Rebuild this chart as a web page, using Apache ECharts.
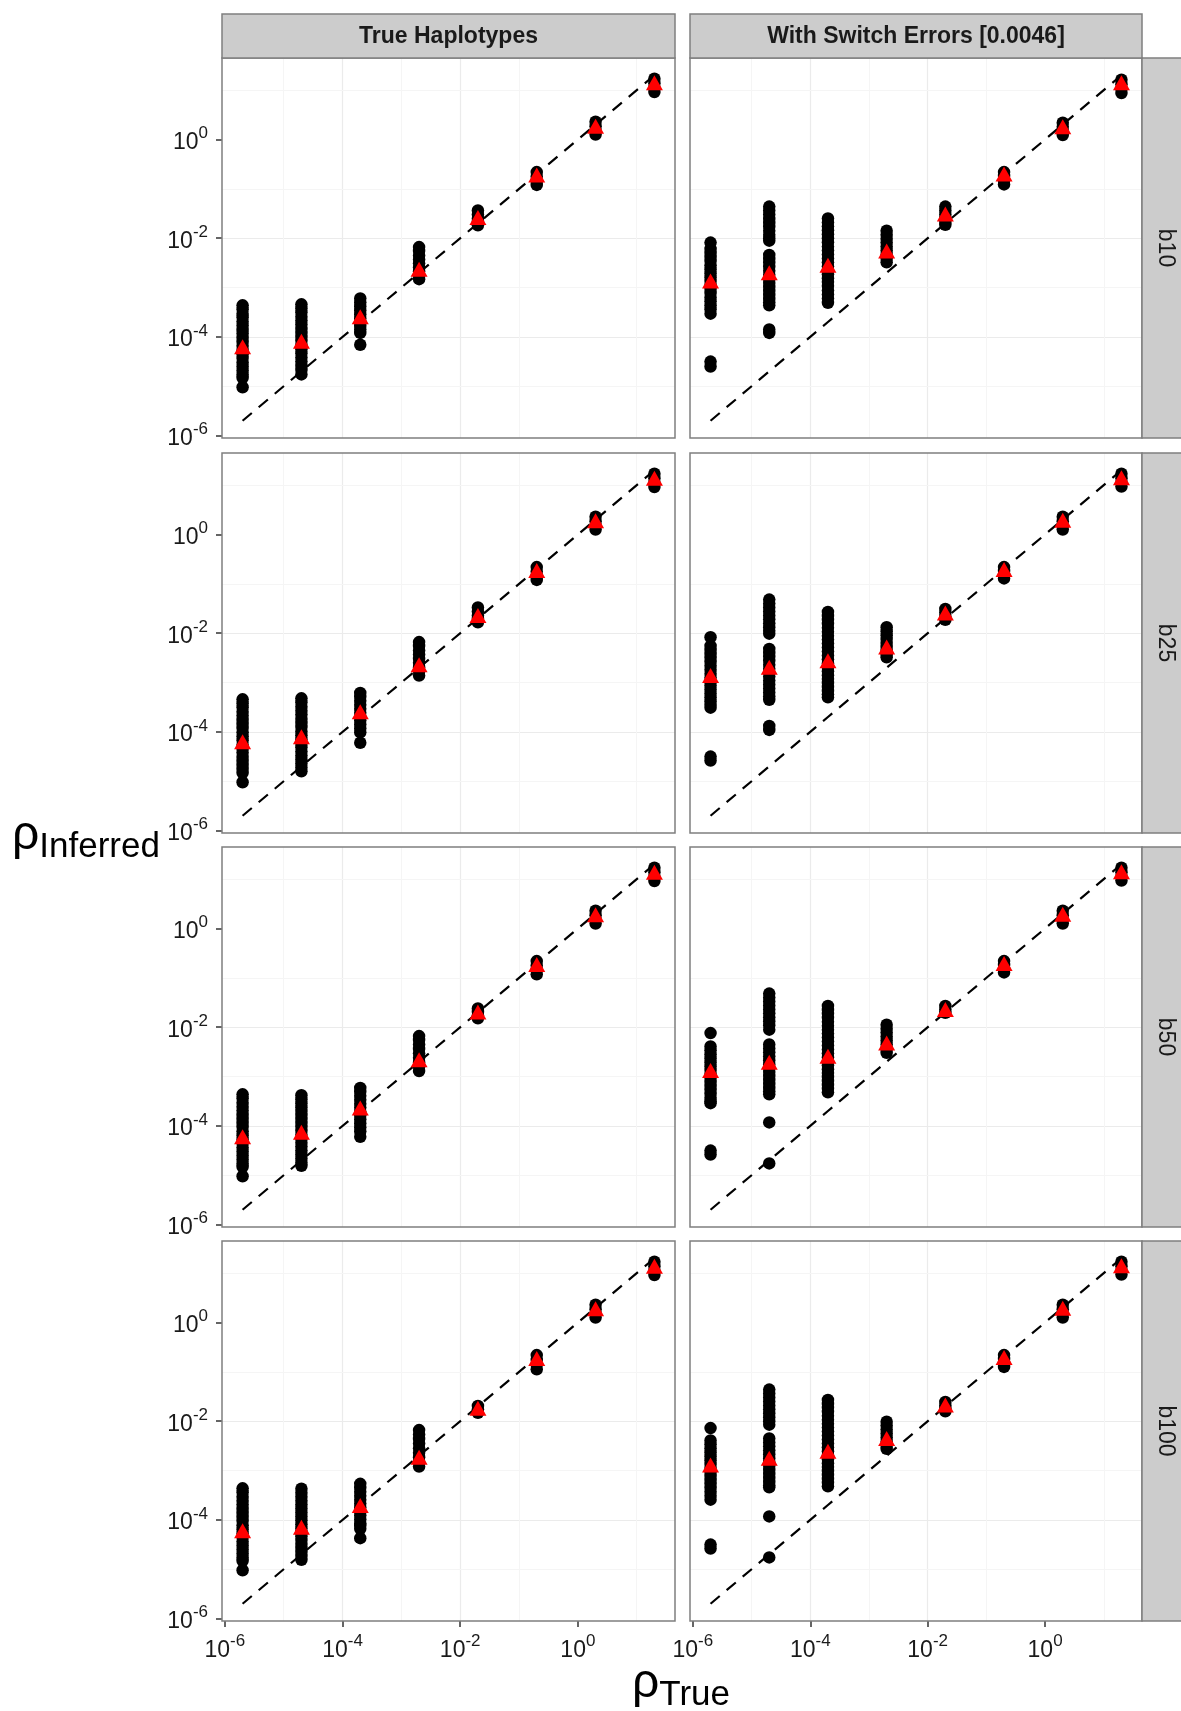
<!DOCTYPE html>
<html>
<head>
<meta charset="utf-8">
<script src="https://cdn.jsdelivr.net/npm/echarts@6/dist/echarts.min.js"></script>
<style>html,body{margin:0;padding:0;background:#fff}#chart{width:1181px;height:1711px}</style>
</head>
<body>
<div id="chart"></div>
<script>
// ---------------- data (log10 values) ----------------
const trueRho = [2e-6, 2e-5, 2e-4, 2e-3, 2e-2, 2e-1, 2, 20];
const colLabels = ['True Haplotypes', 'With Switch Errors [0.0046]'];
const rowLabels = ['b10', 'b25', 'b50', 'b100'];
const tickLog10 = [-6, -4, -2, 0];
const minorLog10 = [-5, -3, -1, 1];

// inferred rho (log10) per true-rho column, per panel
const b10_true = [
  [-3.36,-3.44,-3.53,-3.6,-3.69,-3.77,-3.86,-3.93,-4.02,-4.1,-4.18,-4.27,-4.35,-4.43,-4.52,-4.6,-4.68,-4.76,-4.83,-5.02],
  [-3.34,-3.42,-3.5,-3.59,-3.67,-3.75,-3.84,-3.92,-4.0,-4.08,-4.17,-4.25,-4.33,-4.42,-4.5,-4.59,-4.67,-4.76],
  [-3.22,-3.3,-3.38,-3.46,-3.54,-3.62,-3.7,-3.78,-3.85,-3.92,-4.16],
  [-2.18,-2.26,-2.35,-2.43,-2.51,-2.59,-2.67,-2.75,-2.83],
  [-1.44,-1.52,-1.6,-1.67,-1.74],
  [-0.66,-0.75,-0.84,-0.92],
  [0.36,0.27,0.18,0.1],
  [1.23,1.14,1.05,0.96]
];
const b10_switch = [
  [-2.09,-2.22,-2.3,-2.38,-2.46,-2.55,-2.63,-2.71,-2.79,-2.87,-2.95,-3.03,-3.11,-3.2,-3.28,-3.36,-3.44,-3.53,-4.5,-4.6],
  [-1.36,-1.44,-1.52,-1.61,-1.69,-1.77,-1.85,-1.93,-2.0,-2.05,-2.34,-2.42,-2.5,-2.58,-2.66,-2.74,-2.83,-2.91,-2.99,-3.07,-3.15,-3.23,-3.3,-3.36,-3.85,-3.92],
  [-1.6,-1.68,-1.76,-1.84,-1.92,-2.0,-2.08,-2.17,-2.25,-2.33,-2.41,-2.49,-2.57,-2.65,-2.73,-2.81,-2.89,-2.97,-3.06,-3.14,-3.22,-3.31],
  [-1.85,-1.93,-2.01,-2.09,-2.17,-2.25,-2.33,-2.41,-2.49],
  [-1.36,-1.44,-1.52,-1.6,-1.67,-1.73],
  [-0.66,-0.74,-0.83,-0.91],
  [0.34,0.26,0.17,0.09],
  [1.21,1.12,1.03,0.94]
];
const b25_true = [
  [-3.34,-3.42,-3.5,-3.59,-3.67,-3.76,-3.84,-3.92,-4.01,-4.09,-4.17,-4.26,-4.34,-4.42,-4.51,-4.59,-4.67,-4.75,-4.83,-5.02],
  [-3.32,-3.4,-3.49,-3.57,-3.65,-3.74,-3.82,-3.9,-3.99,-4.07,-4.15,-4.23,-4.31,-4.4,-4.48,-4.56,-4.64,-4.72,-4.8],
  [-3.21,-3.29,-3.37,-3.45,-3.53,-3.61,-3.69,-3.77,-3.85,-3.93,-4.01,-4.22],
  [-2.18,-2.26,-2.35,-2.43,-2.52,-2.6,-2.69,-2.77,-2.86],
  [-1.48,-1.56,-1.64,-1.71,-1.78],
  [-0.66,-0.75,-0.84,-0.92],
  [0.36,0.27,0.18,0.1],
  [1.23,1.14,1.05,0.96]
];
const b25_switch = [
  [-2.08,-2.26,-2.34,-2.42,-2.5,-2.58,-2.66,-2.74,-2.82,-2.9,-2.98,-3.06,-3.14,-3.22,-3.3,-3.38,-3.45,-3.51,-4.5,-4.58],
  [-1.32,-1.4,-1.48,-1.56,-1.64,-1.72,-1.8,-1.88,-1.95,-2.01,-2.32,-2.4,-2.48,-2.56,-2.64,-2.72,-2.8,-2.88,-2.96,-3.04,-3.12,-3.2,-3.28,-3.35,-3.88,-3.96],
  [-1.57,-1.65,-1.73,-1.81,-1.89,-1.97,-2.05,-2.13,-2.21,-2.29,-2.37,-2.45,-2.53,-2.61,-2.69,-2.77,-2.85,-2.93,-3.01,-3.09,-3.17,-3.24,-3.3],
  [-1.88,-1.96,-2.04,-2.12,-2.2,-2.28,-2.36,-2.43,-2.49],
  [-1.51,-1.58,-1.66,-1.73],
  [-0.66,-0.74,-0.82,-0.89],
  [0.36,0.27,0.18,0.1],
  [1.23,1.14,1.05,0.97]
];
const b50_true = [
  [-3.36,-3.44,-3.53,-3.61,-3.69,-3.78,-3.86,-3.94,-4.02,-4.11,-4.19,-4.27,-4.35,-4.44,-4.52,-4.6,-4.68,-4.76,-4.83,-5.02],
  [-3.38,-3.46,-3.54,-3.62,-3.7,-3.78,-3.86,-3.94,-4.02,-4.1,-4.18,-4.26,-4.34,-4.42,-4.5,-4.58,-4.66,-4.74,-4.81],
  [-3.23,-3.31,-3.39,-3.47,-3.55,-3.63,-3.71,-3.79,-3.87,-3.95,-4.03,-4.11,-4.22],
  [-2.18,-2.26,-2.35,-2.44,-2.53,-2.62,-2.71,-2.8,-2.89],
  [-1.62,-1.69,-1.76,-1.82],
  [-0.66,-0.75,-0.84,-0.93],
  [0.36,0.27,0.18,0.1],
  [1.23,1.14,1.05,0.96]
];
const b50_switch = [
  [-2.12,-2.39,-2.47,-2.55,-2.63,-2.71,-2.79,-2.87,-2.95,-3.03,-3.11,-3.19,-3.27,-3.35,-3.43,-3.5,-3.54,-4.5,-4.58],
  [-1.32,-1.4,-1.48,-1.56,-1.64,-1.72,-1.8,-1.88,-1.96,-2.05,-2.35,-2.43,-2.51,-2.59,-2.67,-2.75,-2.83,-2.91,-2.99,-3.07,-3.15,-3.23,-3.3,-3.36,-3.93,-4.76],
  [-1.57,-1.65,-1.73,-1.81,-1.89,-1.97,-2.05,-2.13,-2.21,-2.29,-2.37,-2.45,-2.53,-2.61,-2.69,-2.77,-2.85,-2.93,-3.01,-3.09,-3.17,-3.25,-3.32],
  [-1.95,-2.03,-2.11,-2.19,-2.27,-2.35,-2.44,-2.52],
  [-1.57,-1.64,-1.71],
  [-0.66,-0.74,-0.82,-0.89],
  [0.36,0.27,0.18,0.1],
  [1.23,1.14,1.05,0.97]
];
const b100_true = [
  [-3.36,-3.44,-3.53,-3.61,-3.69,-3.78,-3.86,-3.94,-4.02,-4.11,-4.19,-4.27,-4.35,-4.44,-4.52,-4.6,-4.68,-4.76,-4.83,-5.02],
  [-3.37,-3.45,-3.53,-3.61,-3.69,-3.77,-3.85,-3.93,-4.01,-4.09,-4.17,-4.25,-4.33,-4.41,-4.49,-4.57,-4.65,-4.73,-4.81],
  [-3.27,-3.35,-3.43,-3.51,-3.59,-3.67,-3.75,-3.83,-3.91,-3.99,-4.07,-4.12,-4.18,-4.37],
  [-2.18,-2.27,-2.36,-2.45,-2.55,-2.64,-2.73,-2.83,-2.92],
  [-1.69,-1.76,-1.83],
  [-0.66,-0.76,-0.85,-0.95],
  [0.36,0.27,0.18,0.1],
  [1.23,1.14,1.05,0.96]
];
const b100_switch = [
  [-2.14,-2.39,-2.47,-2.55,-2.63,-2.71,-2.79,-2.87,-2.95,-3.03,-3.11,-3.19,-3.27,-3.35,-3.43,-3.51,-3.59,-4.5,-4.58],
  [-1.36,-1.44,-1.52,-1.6,-1.68,-1.76,-1.84,-1.92,-2.0,-2.07,-2.35,-2.43,-2.51,-2.59,-2.67,-2.75,-2.83,-2.91,-2.99,-3.07,-3.15,-3.23,-3.3,-3.34,-3.93,-4.76],
  [-1.57,-1.65,-1.73,-1.81,-1.89,-1.97,-2.05,-2.13,-2.21,-2.29,-2.37,-2.45,-2.53,-2.61,-2.69,-2.77,-2.85,-2.93,-3.01,-3.09,-3.17,-3.25,-3.32],
  [-2.01,-2.09,-2.17,-2.25,-2.33,-2.41,-2.49,-2.56],
  [-1.61,-1.68,-1.74,-1.8],
  [-0.66,-0.74,-0.82,-0.9],
  [0.36,0.27,0.18,0.1],
  [1.23,1.14,1.05,0.97]
];
// mean of inferred rho (log10), red triangles
const b10_true_mean    = [-4.2, -4.09, -3.59, -2.63, -1.58, -0.72, 0.27, 1.15];
const b10_switch_mean  = [-2.87, -2.7, -2.55, -2.26, -1.51, -0.7, 0.26, 1.15];
const b25_true_mean    = [-4.2, -4.1, -3.59, -2.64, -1.64, -0.73, 0.28, 1.14];
const b25_switch_mean  = [-2.86, -2.69, -2.56, -2.28, -1.59, -0.71, 0.29, 1.15];
const b50_true_mean    = [-4.22, -4.13, -3.64, -2.66, -1.69, -0.73, 0.28, 1.14];
const b50_switch_mean  = [-2.88, -2.71, -2.59, -2.32, -1.64, -0.71, 0.29, 1.15];
const b100_true_mean   = [-4.22, -4.15, -3.71, -2.73, -1.74, -0.73, 0.28, 1.14];
const b100_switch_mean = [-2.89, -2.75, -2.61, -2.35, -1.67, -0.71, 0.29, 1.15];

// ---------------- layout ----------------
const FONT = 'Liberation Sans';
const colLeft = [222, 690], colWidth = [453, 452];
const rowTop = [58, 453, 847, 1241], panelH = 380;
const axisMin = -6.049, axisMax = 1.651;

const panelValues = [[b10_true, b10_switch],[b25_true, b25_switch],[b50_true, b50_switch],[b100_true, b100_switch]];
const panelMeans = [[b10_true_mean, b10_switch_mean],[b25_true_mean, b25_switch_mean],[b50_true_mean, b50_switch_mean],[b100_true_mean, b100_switch_mean]];
const trueLog10 = trueRho.map(v => Math.log10(v));

const labelRich = {
  b: {fontSize: 23, fontFamily: FONT, color: '#1a1a1a', verticalAlign: 'bottom'},
  s: {fontSize: 17, fontFamily: FONT, color: '#1a1a1a', verticalAlign: 'bottom', padding: [0, 0, 12, 0]}
};
const fmt = v => '{b|10}{s|' + v + '}';

const grids = [], xAxes = [], yAxes = [], series = [], graphics = [];
rowLabels.forEach((rl, r) => {
  colLabels.forEach((cl, c) => {
    const idx = grids.length;
    const isLeft = c === 0, isBottom = r === rowLabels.length - 1;
    grids.push({left: colLeft[c], top: rowTop[r], width: colWidth[c], height: panelH, show: false});
    const axisCommon = {
      gridIndex: idx, type: 'value', min: axisMin, max: axisMax, minInterval: 2, maxInterval: 2,
      axisLine: {show: false, onZero: false},
      splitLine: {show: true, showMinLine: false, showMaxLine: false, lineStyle: {color: '#EBEBEB', width: 1.2}}
    };
    xAxes.push(Object.assign({}, axisCommon, {
      position: 'bottom',
      axisTick: {show: isBottom, customValues: tickLog10, length: 6, lineStyle: {color: '#333', width: 1.5}},
      axisLabel: {show: isBottom, customValues: tickLog10, margin: 12, formatter: fmt, rich: labelRich}
    }));
    yAxes.push(Object.assign({}, axisCommon, {
      position: 'left',
      axisTick: {show: isLeft, customValues: tickLog10, length: 6, lineStyle: {color: '#333', width: 1.5}},
      axisLabel: {show: isLeft, customValues: tickLog10, margin: 14, formatter: fmt, rich: labelRich}
    }));
    const pts = [];
    panelValues[r][c].forEach((vals, i) => vals.forEach(v => pts.push([trueLog10[i], v])));
    series.push({
      type: 'scatter', xAxisIndex: idx, yAxisIndex: idx, data: pts, symbol: 'circle', symbolSize: 12.5,
      itemStyle: {color: '#000', opacity: 1}, z: 2, silent: true
    });
    series.push({
      type: 'line', xAxisIndex: idx, yAxisIndex: idx, data: trueLog10.map(v => [v, v]),
      symbol: 'none', showSymbol: false, lineStyle: {color: '#000', width: 2.2, type: [12, 9]}, z: 3, silent: true,
      markLine: {
        silent: true, symbol: 'none', z: 1, animation: false, label: {show: false},
        lineStyle: {color: '#F5F5F5', width: 1, type: 'solid'},
        data: minorLog10.map(v => ({xAxis: v})).concat(minorLog10.map(v => ({yAxis: v})))
      }
    });
    series.push({
      type: 'scatter', xAxisIndex: idx, yAxisIndex: idx,
      data: panelMeans[r][c].map((m, i) => [trueLog10[i], m]),
      symbol: 'triangle', symbolSize: [17, 15], itemStyle: {color: '#FF0000', opacity: 1}, z: 4, silent: true
    });
    // panel border
    graphics.push({type: 'rect', z: 100, silent: true,
      shape: {x: colLeft[c], y: rowTop[r], width: colWidth[c], height: panelH},
      style: {fill: 'none', stroke: '#7F7F7F', lineWidth: 1.5}});
  });
  // right strip
  graphics.push({type: 'rect', z: 100, silent: true,
    shape: {x: colLeft[1] + colWidth[1], y: rowTop[r], width: 40, height: panelH},
    style: {fill: '#CCCCCC', stroke: '#7F7F7F', lineWidth: 1.5}});
  graphics.push({type: 'text', z: 101, silent: true, x: 1165, y: rowTop[r] + panelH / 2, rotation: -Math.PI / 2,
    style: {text: rl, fontSize: 23, fontFamily: FONT, fill: '#1A1A1A', align: 'center', verticalAlign: 'middle'}});
});
// top strips
colLabels.forEach((cl, c) => {
  graphics.push({type: 'rect', z: 100, silent: true,
    shape: {x: colLeft[c], y: 14, width: colWidth[c], height: 44},
    style: {fill: '#CCCCCC', stroke: '#7F7F7F', lineWidth: 1.5}});
  graphics.push({type: 'text', z: 101, silent: true, x: colLeft[c] + colWidth[c] / 2, y: 37,
    style: {text: cl, fontSize: 23, fontWeight: 'bold', fontFamily: FONT, fill: '#1A1A1A', align: 'center', verticalAlign: 'middle'}});
});
// axis titles
const titleRich = {
  r: {fontSize: 48, fontFamily: FONT, fill: '#000', verticalAlign: 'bottom', padding: [0, 0, 5, 0]},
  s: {fontSize: 35, fontFamily: FONT, fill: '#000', verticalAlign: 'bottom'}
};
graphics.push({type: 'text', z: 101, silent: true, x: 12, y: 838,
  style: {text: '{r|ρ}{s|Inferred}', align: 'left', verticalAlign: 'middle', rich: titleRich}});
graphics.push({type: 'text', z: 101, silent: true, x: 681, y: 1686,
  style: {text: '{r|ρ}{s|True}', align: 'center', verticalAlign: 'middle', rich: titleRich}});

const chart = echarts.init(document.getElementById('chart'), null, {renderer: 'canvas'});
chart.setOption({
  animation: false,
  backgroundColor: '#fff',
  textStyle: {fontFamily: FONT},
  grid: grids, xAxis: xAxes, yAxis: yAxes, series: series, graphic: {elements: graphics}
});
</script>
</body>
</html>
